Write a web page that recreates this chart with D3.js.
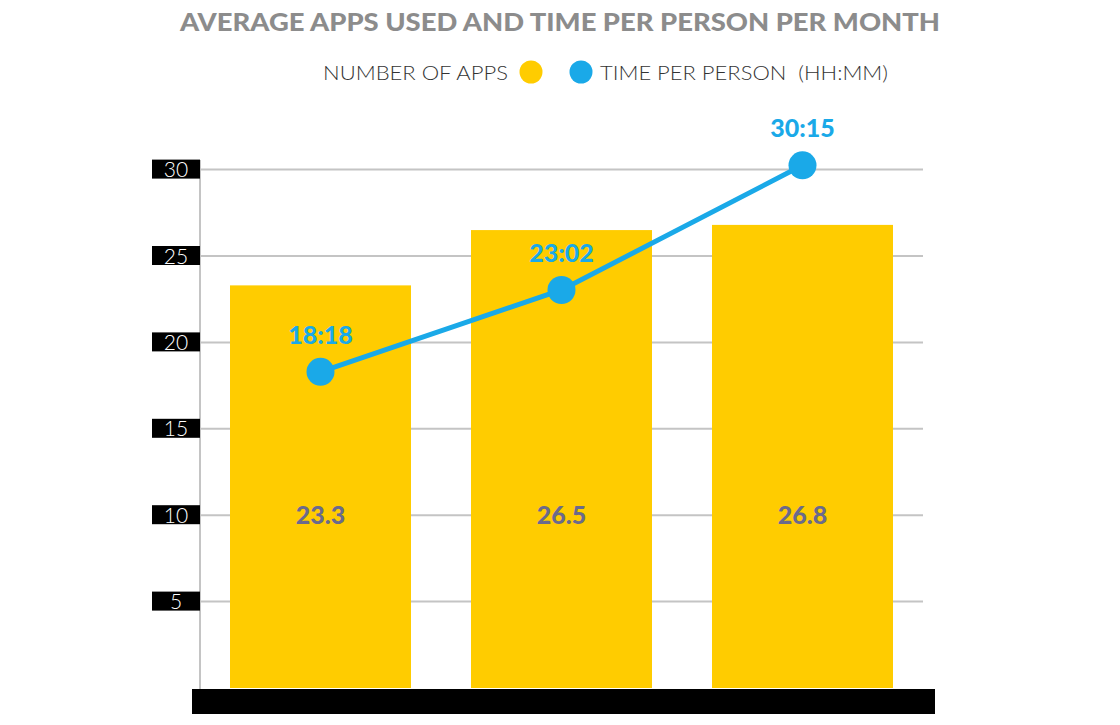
<!DOCTYPE html>
<html>
<head>
<meta charset="utf-8">
<script src="https://cdn.jsdelivr.net/npm/d3@7"></script>
<style>
  html, body { margin: 0; padding: 0; background: #ffffff; }
  svg { display: block; }
  text { font-family: Lato, "Open Sans", sans-serif; }
</style>
</head>
<body>
<svg id="chart" width="1120" height="725"></svg>
<script>
// ---- data ----
const categories = ["A", "B", "C"];
const appsValues = [23.3, 26.5, 26.8];
const appsLabels = ["23.3", "26.5", "26.8"];
const timeValues = [18.3, 23.033, 30.25];
const timeLabels = ["18:18", "23:02", "30:15"];
const yTicks = [5, 10, 15, 20, 25, 30];
const titleText = "AVERAGE APPS USED AND TIME PER PERSON PER MONTH";
const legendApps = "NUMBER OF APPS";
const legendTime = "TIME PER PERSON  (HH:MM)";

// ---- styles ----
const barColor = "#ffcc00";
const lineColor = "#1aa9e8";
const barLabelColor = "#6b6a8c";
const gridColor = "#c4c4c4";

const svg = d3.select("#chart");

const x = d3.scaleBand()
  .domain(categories)
  .range([200, 923])
  .paddingInner(60 / 241)
  .paddingOuter(30 / 241);

const y = d3.scaleLinear().domain([0, 30]).range([688, 169.6]);

// title
svg.append("text")
  .attr("x", 180).attr("y", 31)
  .attr("textLength", 760).attr("lengthAdjust", "spacingAndGlyphs")
  .attr("font-size", 24).attr("font-weight", 900)
  .attr("fill", "#8c8c8c")
  .text(titleText);

// legend
svg.append("text")
  .attr("x", 323).attr("y", 80)
  .attr("textLength", 185).attr("lengthAdjust", "spacingAndGlyphs")
  .attr("font-size", 19).attr("font-weight", 300)
  .attr("fill", "#333").text(legendApps);
svg.append("circle").attr("cx", 531).attr("cy", 72).attr("r", 11.5).attr("fill", barColor);
svg.append("circle").attr("cx", 581).attr("cy", 72).attr("r", 11.5).attr("fill", lineColor);
svg.append("text")
  .attr("x", 600).attr("y", 80)
  .attr("textLength", 288).attr("lengthAdjust", "spacingAndGlyphs")
  .attr("font-size", 19).attr("font-weight", 300)
  .attr("fill", "#333").style("white-space", "pre").text(legendTime);

// gridlines
svg.append("g").selectAll("line").data(yTicks).join("line")
  .attr("x1", 200).attr("x2", 923)
  .attr("y1", d => y(d)).attr("y2", d => y(d))
  .attr("stroke", gridColor).attr("stroke-width", 2);

// vertical axis line
svg.append("line")
  .attr("x1", 200).attr("x2", 200)
  .attr("y1", 160).attr("y2", 690)
  .attr("stroke", gridColor).attr("stroke-width", 2);

// tick label boxes
const tg = svg.append("g").selectAll("g").data(yTicks).join("g")
  .attr("transform", d => `translate(0,${y(d)})`);
tg.append("rect").attr("x", 152).attr("y", -10).attr("width", 48).attr("height", 19).attr("fill", "#000");
tg.append("text").attr("x", 176).attr("y", 7.5)
  .attr("text-anchor", "middle").attr("font-size", 21).attr("font-weight", 300)
  .attr("fill", "#fff").text(d => d);

// bars
svg.append("g").selectAll("rect").data(appsValues).join("rect")
  .attr("x", (d, i) => x(categories[i]))
  .attr("width", x.bandwidth())
  .attr("y", d => y(d))
  .attr("height", d => y(0) - y(d))
  .attr("fill", barColor);

// bar labels
svg.append("g").selectAll("text").data(appsLabels).join("text")
  .attr("x", (d, i) => x(categories[i]) + x.bandwidth() / 2)
  .attr("y", y(10) + 9)
  .attr("text-anchor", "middle")
  .attr("font-size", 25).attr("font-weight", 900)
  .attr("fill", barLabelColor).text(d => d);

// bottom black base
svg.append("rect").attr("x", 192).attr("y", 689).attr("width", 743).attr("height", 25).attr("fill", "#000");

// line
const line = d3.line()
  .x((d, i) => x(categories[i]) + x.bandwidth() / 2)
  .y(d => y(d));
svg.append("path").datum(timeValues)
  .attr("d", line).attr("fill", "none")
  .attr("stroke", lineColor).attr("stroke-width", 5);

svg.append("g").selectAll("circle").data(timeValues).join("circle")
  .attr("cx", (d, i) => x(categories[i]) + x.bandwidth() / 2)
  .attr("cy", d => y(d))
  .attr("r", 14).attr("fill", lineColor);

svg.append("g").selectAll("text").data(timeLabels).join("text")
  .attr("x", (d, i) => x(categories[i]) + x.bandwidth() / 2)
  .attr("y", (d, i) => y(timeValues[i]) - 28)
  .attr("text-anchor", "middle")
  .attr("font-size", 25).attr("font-weight", 900)
  .attr("fill", lineColor).text(d => d);
</script>
</body>
</html>
